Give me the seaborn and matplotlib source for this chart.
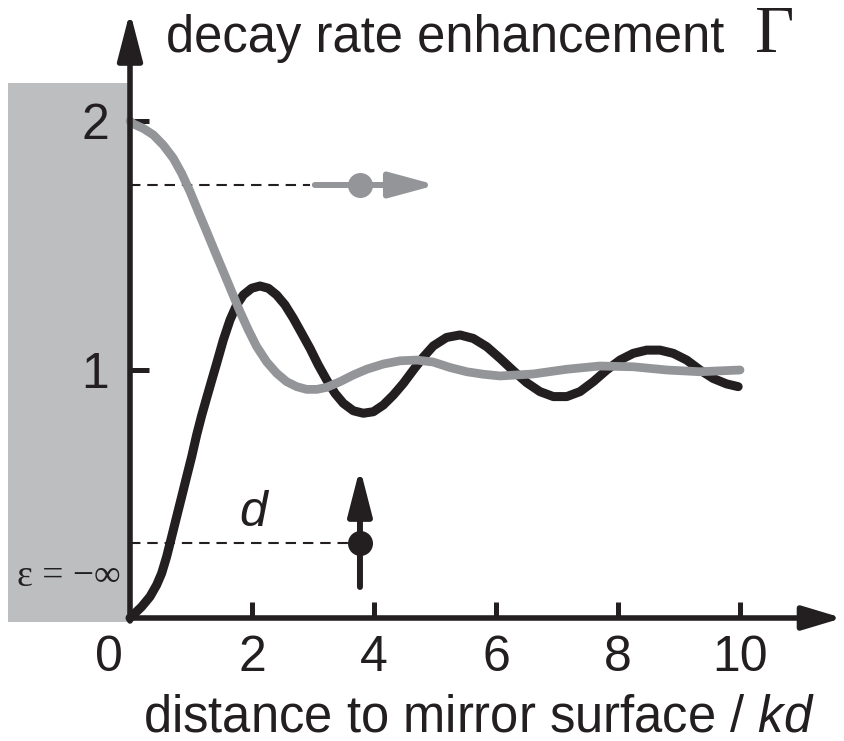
import matplotlib
matplotlib.use("Agg")
import matplotlib.pyplot as plt
import seaborn as sns
import pandas as pd

# ---- data ----
black_x = [0.0, 0.19, 0.328, 0.437, 0.519, 0.601, 0.683, 0.765, 0.847, 0.929, 1.011,
           1.093, 1.175, 1.257, 1.338, 1.421, 1.530, 1.639, 1.749, 1.858, 1.995, 2.131,
           2.268, 2.404, 2.541, 2.678, 2.814, 2.951, 3.087, 3.224, 3.361, 3.497, 3.661,
           3.825, 3.989, 4.153, 4.317, 4.481, 4.645, 4.809, 4.973, 5.19, 5.41, 5.628,
           5.847, 6.066, 6.284, 6.503, 6.72, 6.94, 7.16, 7.377, 7.595, 7.815, 8.033,
           8.25, 8.47, 8.689, 8.907, 9.126, 9.344, 9.56, 9.78, 9.97]
black_y = [0.0, 0.045, 0.086, 0.133, 0.18, 0.247, 0.327, 0.408, 0.488, 0.569, 0.649,
           0.737, 0.815, 0.886, 0.955, 1.025, 1.119, 1.199, 1.260, 1.300, 1.327, 1.336,
           1.327, 1.300, 1.260, 1.206, 1.146, 1.085, 1.018, 0.958, 0.904, 0.864, 0.834,
           0.824, 0.830, 0.857, 0.897, 0.944, 0.998, 1.050, 1.095, 1.129, 1.139, 1.125,
           1.092, 1.045, 0.995, 0.947, 0.911, 0.891, 0.891, 0.911, 0.951, 0.998, 1.038,
           1.065, 1.078, 1.078, 1.065, 1.038, 0.998, 0.964, 0.942, 0.931]
gray_x = [0.0, 0.055, 0.219, 0.383, 0.546, 0.710, 0.847, 0.984, 1.12, 1.257, 1.393,
          1.530, 1.667, 1.803, 1.940, 2.077, 2.240, 2.404, 2.568, 2.732, 2.896, 3.06,
          3.224, 3.443, 3.661, 3.880, 4.153, 4.426, 4.70, 4.97, 5.246, 5.52, 5.79,
          6.066, 6.61, 7.16, 7.70, 8.25, 8.80, 9.34, 10.0]
gray_y = [2.0, 1.988, 1.970, 1.944, 1.903, 1.850, 1.789, 1.716, 1.635, 1.555, 1.474,
          1.394, 1.313, 1.233, 1.159, 1.092, 1.031, 0.985, 0.951, 0.931, 0.920, 0.920,
          0.928, 0.951, 0.978, 1.001, 1.022, 1.035, 1.038, 1.03, 1.008, 0.991, 0.981,
          0.974, 0.982, 1.001, 1.014, 1.011, 0.998, 0.991, 0.998]
x_ticks = [2, 4, 6, 8, 10]
x_tick_labels = ["2", "4", "6", "8", "10"]
y_ticks = [1, 2]
y_tick_labels = ["1", "2"]

BLACK = "#231f20"
GRAY = "#939598"
RECT = "#bcbec0"

sns.set_style("white")
plt.rcParams["font.family"] = ["Liberation Sans", "DejaVu Sans"]
plt.rcParams["mathtext.fontset"] = "custom"
plt.rcParams["mathtext.rm"] = "Liberation Sans"
plt.rcParams["mathtext.it"] = "Liberation Sans:italic"

W, H = 844, 741
fig = plt.figure(figsize=(W / 100, H / 100), dpi=100)
ax = fig.add_axes([0, 0, 1, 1])
PX = 61.0      # pixels per x unit
PY = 248.5     # pixels per y unit
X0, Y0 = 130, 618
ax.set_xlim(-X0 / PX, (W - X0) / PX)
ax.set_ylim((Y0 - H) / PY, Y0 / PY)
ax.patch.set_alpha(0)

# mirror region
ylo = (Y0 - H) / PY
ax.axvspan(-2.0, 0, ymin=(-0.016 - ylo) / (H / PY),
           ymax=(2.153 - ylo) / (H / PY), color=RECT, lw=0, zorder=0)

# curves
df_b = pd.DataFrame({"x": black_x, "y": black_y})
df_g = pd.DataFrame({"x": gray_x, "y": gray_y})
sns.lineplot(data=df_b, x="x", y="y", ax=ax, color=BLACK, lw=6.5, sort=False,
             solid_capstyle="round", solid_joinstyle="round", zorder=3)
sns.lineplot(data=df_g, x="x", y="y", ax=ax, color=GRAY, lw=6.3, sort=False,
             solid_capstyle="round", solid_joinstyle="round", zorder=4)

# axes as arrows
for s in ax.spines.values():
    s.set_visible(False)
ax.spines["left"].set_position(("data", 0))
ax.spines["bottom"].set_position(("data", 0))
ax.annotate("", xy=(0, 2.44), xytext=(0, -0.012),
            arrowprops=dict(arrowstyle="-|>,head_length=29,head_width=7.5", mutation_scale=1,
                            lw=4, color=BLACK, shrinkA=0, shrinkB=0), zorder=5)
ax.annotate("", xy=(11.68, 0), xytext=(-0.02, 0),
            arrowprops=dict(arrowstyle="-|>,head_length=24,head_width=7.2", mutation_scale=1,
                            lw=4, color=BLACK, shrinkA=0, shrinkB=0), zorder=5)

ax.set_xticks(x_ticks)
ax.set_xticklabels(x_tick_labels)
ax.set_yticks(y_ticks)
ax.set_yticklabels(y_tick_labels)
ax.tick_params(axis="x", direction="in", length=11.5, width=3.6, color=BLACK,
               labelsize=36, pad=12, labelcolor=BLACK)
ax.tick_params(axis="y", direction="in", length=14, width=3.6, color=BLACK,
               labelsize=36, pad=15, labelcolor=BLACK)
ax.tick_params(bottom=True, left=True, top=False, right=False)
ax.text(-0.11, (Y0 - 635) / PY, "0", ha="right", va="top", fontsize=36, color=BLACK)
ax.set_xlabel("")
ax.set_ylabel("")

# gray horizontal-dipole indicator
yg = (Y0 - 185) / PY
ax.plot([0, 2.95], [yg, yg], color=BLACK, lw=1.5, dashes=[5, 3.3], zorder=2)
ax.annotate("", xy=(5.02, yg), xytext=(3.03, yg),
            arrowprops=dict(arrowstyle="-|>,head_length=28,head_width=7.6", mutation_scale=1,
                            lw=4.3, color=GRAY, shrinkA=0, shrinkB=0), zorder=5)
ax.plot([3.77], [yg], "o", color=GRAY, ms=18, mec="none", zorder=6)

# black vertical-dipole indicator
yb = (Y0 - 543) / PY
ax.plot([0, 3.6], [yb, yb], color=BLACK, lw=1.5, dashes=[5, 3.3], zorder=2)
ax.annotate("", xy=(3.77, (Y0 - 468) / PY), xytext=(3.77, (Y0 - 587) / PY),
            arrowprops=dict(arrowstyle="-|>,head_length=28,head_width=7.2", mutation_scale=1,
                            lw=4.3, color=BLACK, shrinkA=0, shrinkB=0), zorder=5)
ax.plot([3.77], [yb], "o", color=BLACK, ms=18, mec="none", zorder=6)
ax.text((253 - X0) / PX, (Y0 - 513) / PY, "d", fontsize=36, style="italic",
        ha="center", va="center", color=BLACK)

# epsilon label
ax.text((69 - X0) / PX, (Y0 - 577) / PY, "ε = −∞", fontsize=27,
        family=["Liberation Serif", "DejaVu Serif"], ha="center", va="center", color=BLACK)

# titles
fig.text(166 / W, 1 - 52 / H, "decay rate enhancement", fontsize=36.5, color=BLACK,
         ha="left", va="baseline")
fig.text(755 / W, 1 - 52 / H, "Γ", fontsize=49, color=BLACK,
         family=["Liberation Serif", "DejaVu Serif"], ha="left", va="baseline")
fig.text(143 / W, 1 - 731 / H, "distance to mirror surface / $kd$", fontsize=36.5,
         color=BLACK, ha="left", va="baseline")

fig.savefig("out.png", dpi=100)
